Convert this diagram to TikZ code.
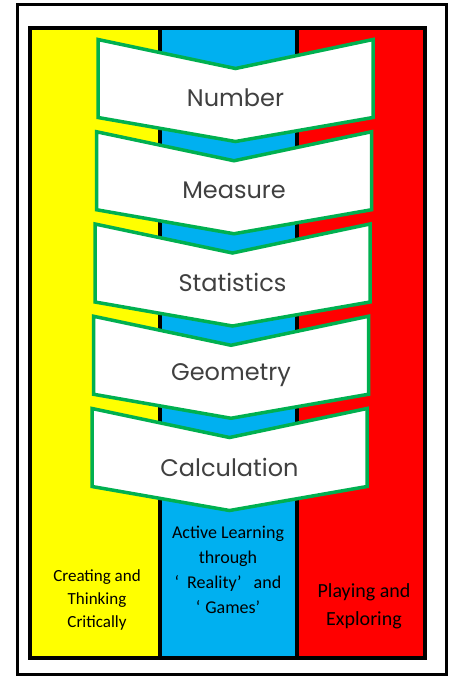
\documentclass[tikz,border=0pt]{standalone}
\usepackage{fontspec}
\setmainfont{Carlito}
\newfontfamily\gothicfont{Poppins}
\usepackage{tikz}
\definecolor{stripyellow}{HTML}{FFFF00}
\definecolor{stripblue}{HTML}{00B0F0}
\definecolor{stripred}{HTML}{FF0000}
\definecolor{chevgreen}{HTML}{00B050}
\definecolor{chevtext}{HTML}{404040}
\begin{document}
\begin{tikzpicture}[
  x=1pt, y=-1pt,
  chevron/.style={draw=chevgreen, fill=white, line width=3.5pt, line join=miter},
  divider/.style={line width=4pt, black},
  strand/.style={font=\gothicfont\fontsize{24}{28}\selectfont, text=chevtext},
  topic/.style={align=center, text=black}
]
\useasboundingbox (0,0) rectangle (456,677);
% outer frame
\draw[line width=3pt] (17.5,4.5) rectangle (446.5,674);
% three coloured strips
\fill[stripyellow] (29.5,28) rectangle (160,658);
\fill[stripblue] (160,28) rectangle (297,658);
\fill[stripred] (297,28) rectangle (424.5,658);
\draw[divider] (160,28) -- (160,658);
\draw[divider] (297,28) -- (297,658);
\draw[line width=4pt] (29.5,28) rectangle (424.5,658);
% strands
\foreach \name/\txt [count=\i from 0] in {number/Number, measure/Measure, statistics/Statistics, geometry/Geometry, calculation/Calculation} {
  \pgfmathsetmacro{\ytop}{39.5+92.25*\i}
  \pgfmathsetmacro{\xleft}{98-1.5*\i}
  \draw[chevron] (\xleft,\ytop) -- ++(137.5,29) -- ++(137.5,-29) -- ++(0,78) -- ++(-137.5,24) -- ++(-137.5,-24) -- cycle;
  \node[strand] (\name) at (\xleft+137.5,\ytop+58.5) {\txt};
}
% ways of learning
\node[topic, font=\fontsize{17}{23}\selectfont] (creating) at (97,600) {Creating and\\Thinking\\Critically};
\node[topic, font=\fontsize{18}{25}\selectfont] (active) at (228,570) {Active Learning\\through\\‘\hspace{8pt}Reality’\hspace{12pt}and\\‘\hspace{5pt}Games’};
\node[topic, font=\fontsize{20}{28}\selectfont] (playing) at (364,606) {Playing and\\Exploring};
\end{tikzpicture}
\end{document}
